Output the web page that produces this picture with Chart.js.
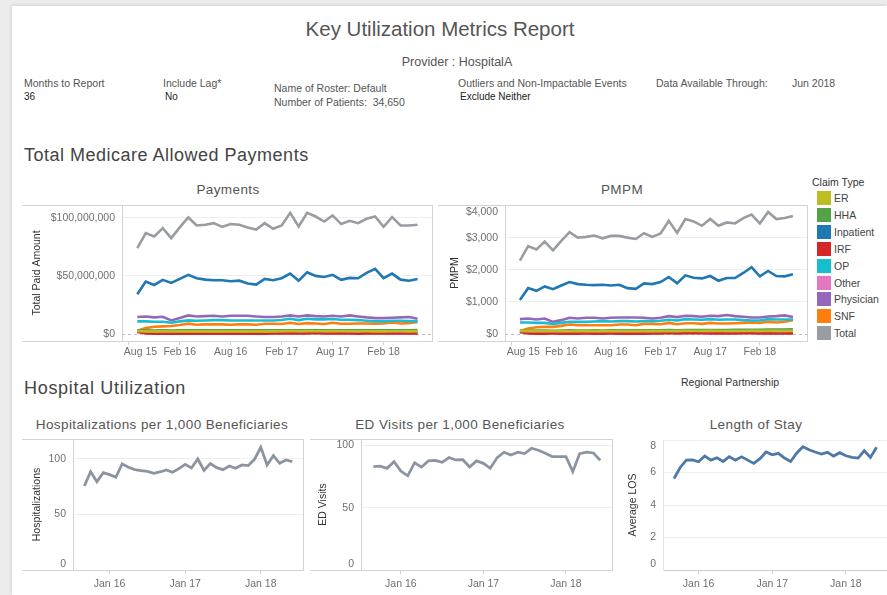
<!DOCTYPE html>
<html>
<head>
<meta charset="utf-8">
<script src="https://cdn.jsdelivr.net/npm/chart.js@4.4.1/dist/chart.umd.min.js"></script>
<style>
  body { margin: 0; width: 887px; height: 595px; background: #ececec; overflow: hidden; position: relative;
         font-family: "Liberation Sans", Arial, sans-serif; }
  #panel { position: absolute; left: 12px; top: 6px; right: 0; bottom: 0; background: #fff;
           box-shadow: -1px -1px 3px rgba(0,0,0,0.10); }
  .t { position: absolute; white-space: nowrap; color: #555; line-height: 1; }
  .lab { font-size: 10.5px; color: #555; }
  .val { font-size: 10px; color: #222; }
  .sec { font-size: 18px; color: #444; letter-spacing: 0.5px; }
  .ct { font-size: 13.5px; color: #555; text-align: center; letter-spacing: 0.4px; }
  canvas { position: absolute; }
  .sw { position: absolute; width: 14px; height: 14px; }
</style>
</head>
<body>
<div id="panel"></div>

<div class="t" style="left:0;width:880px;text-align:center;top:19px;font-size:20.5px;color:#555">Key Utilization Metrics Report</div>
<div class="t" style="left:0;width:914px;text-align:center;top:56px;font-size:12.5px;color:#555">Provider : HospitalA</div>

<div class="t lab" style="left:24px;top:78px">Months to Report</div>
<div class="t val" style="left:24px;top:92px">36</div>
<div class="t lab" style="left:163px;top:78px">Include Lag*</div>
<div class="t val" style="left:165px;top:92px">No</div>
<div class="t lab" style="left:274px;top:83px">Name of Roster: Default</div>
<div class="t lab" style="left:274px;top:97px">Number of Patients:&nbsp; 34,650</div>
<div class="t lab" style="left:458px;top:78px">Outliers and Non-Impactable Events</div>
<div class="t val" style="left:460px;top:92px">Exclude Neither</div>
<div class="t lab" style="left:656px;top:78px">Data Available Through:</div>
<div class="t lab" style="left:792px;top:78px">Jun 2018</div>

<div class="t sec" style="left:24px;top:146px">Total Medicare Allowed Payments</div>
<div class="t sec" style="left:24px;top:379px;letter-spacing:0.7px">Hospital Utilization</div>

<div class="t ct" style="left:128px;width:200px;top:183px">Payments</div>
<div class="t ct" style="left:522px;width:200px;top:183px">PMPM</div>
<div class="t ct" style="left:12px;width:300px;top:418px">Hospitalizations per 1,000 Beneficiaries</div>
<div class="t ct" style="left:310px;width:300px;top:418px">ED Visits per 1,000 Beneficiaries</div>
<div class="t ct" style="left:656px;width:200px;top:418px">Length of Stay</div>

<div class="t lab" style="left:681px;top:377px;color:#333">Regional Partnership</div>

<div id="legend"></div>

<canvas id="cPay" width="420" height="176" style="left:22px;top:191px"></canvas>
<canvas id="cPmpm" width="380" height="182" style="left:438px;top:185px"></canvas>
<canvas id="cHosp" width="290" height="170" style="left:22px;top:425px"></canvas>
<canvas id="cEd" width="310" height="170" style="left:310px;top:425px"></canvas>
<canvas id="cLos" width="269" height="175" style="left:618px;top:420px"></canvas>

<script>
// months Sep 2015 .. Jun 2018 (axis month 0 = Jul 2015)
const months = ['Sep 15','Oct 15','Nov 15','Dec 15','Jan 16','Feb 16','Mar 16','Apr 16','May 16','Jun 16','Jul 16','Aug 16',
  'Sep 16','Oct 16','Nov 16','Dec 16','Jan 17','Feb 17','Mar 17','Apr 17','May 17','Jun 17','Jul 17','Aug 17',
  'Sep 17','Oct 17','Nov 17','Dec 17','Jan 18','Feb 18','Mar 18','Apr 18','May 18','Jun 18'];
const firstMonth = 2;

const topTickPos = [1, 7, 13, 19, 25, 31];
const topTickLabels = ['Aug 15', 'Feb 16', 'Aug 16', 'Feb 17', 'Aug 17', 'Feb 18'];
const bottomTickPos = [6, 18, 30];
const bottomTickLabels = ['Jan 16', 'Jan 17', 'Jan 18'];

const claimTypes = ['ER', 'HHA', 'Inpatient', 'IRF', 'OP', 'Other', 'Physician', 'SNF', 'Total'];
const claimColors = ['#bcbd22', '#55a146', '#1f77b4', '#d62728', '#17becf', '#e377c2', '#9467bd', '#ff7f0e', '#999ca1'];

// Payments, in millions of dollars
const payER = [2.4,2.3,2.2,2.3,2.2,2.3,2.4,2.3,2.3,2.4,2.3,2.4,2.3,2.3,2.4,2.3,2.3,2.4,2.5,2.4,2.5,2.4,2.4,2.5,2.4,2.4,2.4,2.4,2.3,2.3,2.4,2.4,2.3,2.4];
const payHHA = [3.0,3.1,3.0,3.1,2.9,3.1,3.2,3.1,3.1,3.2,3.1,3.1,3.2,3.1,3.1,3.2,3.1,3.2,3.3,3.1,3.3,3.2,3.2,3.3,3.2,3.2,3.2,3.3,3.2,3.2,3.3,3.3,3.2,3.4];
const payInpatient = [34.2,45.1,42.2,46.6,44.0,47.4,50.9,48.0,46.8,46.3,46.3,45.4,45.9,43.4,42.5,47.4,46.3,48.0,52.0,45.9,53.2,50.0,49.1,50.9,46.6,48.3,48.0,52.6,56.0,48.0,52.0,46.8,45.9,47.4];
const payIRF = [2.2,0.4,0.3,0.3,0.4,0.3,0.4,0.3,0.4,0.3,0.3,0.4,0.3,0.3,0.4,0.3,0.4,0.4,0.8,0.5,0.6,0.9,0.5,0.4,0.6,0.4,0.3,0.6,0.5,0.4,0.5,0.4,0.4,0.4];
const payOP = [10.9,10.9,10.6,10.6,9.7,10.9,11.7,11.4,11.7,12.0,12.0,11.7,11.7,11.7,11.7,11.7,11.7,12.0,13.1,12.0,13.1,12.6,12.6,12.9,12.3,12.3,12.0,11.4,10.9,10.9,11.4,11.4,11.1,10.9];
const payOther = [1.3,0.9,0.8,0.8,0.8,0.9,0.9,0.8,0.8,0.9,0.8,0.8,0.9,0.8,0.8,0.9,0.8,0.8,0.9,0.8,0.9,0.9,0.8,0.9,0.8,0.8,0.9,0.8,0.8,0.8,0.9,0.8,0.8,0.8];
const payPhysician = [14.6,15.1,14.3,14.9,11.7,13.7,16.0,15.1,15.4,15.7,15.1,15.7,15.7,15.7,15.1,14.6,14.6,15.1,16.0,15.1,16.0,15.4,15.1,15.7,15.1,16.0,15.1,14.3,13.7,13.7,14.0,14.3,14.6,13.1];
const paySNF = [2.9,5.1,6.3,6.6,6.9,7.7,8.9,8.0,8.3,8.3,8.3,8.0,8.3,8.3,8.0,8.9,8.9,8.6,9.7,8.6,9.4,9.1,8.6,9.7,8.9,8.9,9.1,9.1,8.9,9.1,10.0,9.1,9.4,10.3];
const payTotal = [73.9,86.8,83.9,91.1,82.5,91.7,100.3,93.4,94.0,95.4,92.2,94.6,94.0,91.7,89.9,95.4,90.5,93.4,104.3,92.5,104.3,101.1,96.8,102.0,94.6,97.4,95.4,99.1,101.1,92.2,100.6,93.4,93.4,94.0];
const payTicks = [0, 50, 100];

// PMPM, dollars
const pmER = [95,88,85,87,84,88,90,88,88,90,88,89,88,88,90,89,88,90,94,90,95,92,91,95,92,92,93,94,95,92,96,95,94,97];
const pmHHA = [100,105,104,106,102,108,112,110,110,112,110,111,112,112,114,115,114,117,122,118,124,122,123,126,124,126,128,130,132,130,135,136,136,142];
const pmInpatient = [1063,1432,1348,1485,1400,1516,1622,1558,1537,1527,1537,1516,1537,1432,1411,1580,1558,1622,1780,1580,1832,1758,1737,1811,1664,1748,1748,1906,2085,1801,1969,1811,1801,1864];
const pmIRF = [80,15,12,12,14,12,15,12,14,12,12,14,12,12,15,12,15,15,30,18,22,35,20,16,24,16,14,24,20,16,22,16,16,18];
const pmOP = [358,358,347,347,316,347,379,379,379,390,400,390,400,400,390,400,400,411,442,421,463,453,442,463,442,453,453,432,421,421,463,453,453,453];
const pmOther = [40,30,28,28,28,30,30,28,28,30,28,28,30,28,28,30,28,28,31,28,31,31,28,31,29,29,31,29,29,29,31,29,29,29];
const pmPhysician = [463,484,453,484,379,432,505,484,505,505,484,505,516,516,516,505,484,505,558,527,569,558,537,569,558,590,558,537,516,516,548,558,579,527];
const pmSNF = [95,168,211,221,221,253,295,274,274,274,274,274,295,295,274,316,316,305,347,305,337,337,316,347,326,326,337,347,358,347,379,358,379,432];
const pmTotal = [2295,2748,2642,2885,2611,2906,3180,3011,3033,3075,2990,3064,3064,3011,2969,3148,3033,3138,3538,3159,3591,3517,3380,3591,3380,3485,3454,3622,3728,3454,3812,3591,3622,3686];
const pmTicks = [0, 1000, 2000, 3000, 4000];

// Hospital utilization
const hospPer1000 = [75.7,88.6,79.6,87.7,85.9,83.5,95.5,92.5,90.4,89.5,88.9,87.1,88.3,90.1,88.0,91.3,95.2,91.9,100,89.8,95.8,92.2,90.4,93.7,91.6,94.6,94.0,99.7,110.5,94.6,103,96.1,99.1,97.6];
const edPer1000 = [82.8,83.3,81.5,86.8,79.3,75.5,86.0,82.5,87.4,87.9,86.3,90.1,88.2,88.4,82.5,87.4,85.5,81.5,90.1,94.4,92.2,94.4,93.3,97.6,96.0,93.5,90.9,90.9,90.9,78.8,93.3,94.4,93.8,87.9];
const avgLos = [5.63,6.31,6.76,6.78,6.66,7.01,6.76,6.91,6.68,6.97,6.76,6.97,6.76,6.56,6.85,7.26,7.09,7.18,6.89,6.68,7.20,7.59,7.40,7.26,7.13,7.24,7.01,7.22,7.03,6.93,6.89,7.34,6.93,7.55];
const countTicks = [0, 50, 100];
const losTicks = [0, 2, 4, 6, 8];

const paySeries = [payER, payHHA, payInpatient, payIRF, payOP, payOther, payPhysician, paySNF, payTotal];
const pmSeries = [pmER, pmHHA, pmInpatient, pmIRF, pmOP, pmOther, pmPhysician, pmSNF, pmTotal];

const FONT = '"Liberation Sans", Arial, sans-serif';

function points(values) {
  return values.map((v, i) => ({ x: firstMonth + i, y: v }));
}

// legend
const legend = document.getElementById('legend');
legend.innerHTML = '<div class="t lab" style="left:812px;top:177px;color:#333">Claim Type</div>' +
  claimTypes.map((name, i) => {
    const y = 191 + i * 16.9;
    return `<div class="sw" style="left:817px;top:${y}px;background:${claimColors[i]}"></div>` +
      `<div class="t lab" style="left:834px;top:${y + 2}px;color:#444">${name}</div>`;
  }).join('');

// frame lines + dashed zero line
const framePlugin = {
  id: 'frame',
  beforeDatasetsDraw(chart, args, o) {
    const { ctx, chartArea: a } = chart;
    ctx.save();
    ctx.lineWidth = 1;
    if (o.box) {
      ctx.strokeStyle = '#d3d3d3';
      ctx.beginPath();
      ctx.moveTo(0, Math.round(a.top) + 0.5); ctx.lineTo(a.right + 1, Math.round(a.top) + 0.5);
      ctx.moveTo(0, Math.round(a.bottom) + 0.5); ctx.lineTo(a.right + 1, Math.round(a.bottom) + 0.5);
      ctx.moveTo(Math.round(a.right) + 0.5, a.top); ctx.lineTo(Math.round(a.right) + 0.5, a.bottom);
      ctx.stroke();
    }
    if (o.zero) {
      const y0 = Math.round(chart.scales.y.getPixelForValue(0)) + 0.5;
      ctx.strokeStyle = '#bdbdbd';
      ctx.setLineDash([3, 3]);
      ctx.beginPath();
      ctx.moveTo(a.left, y0); ctx.lineTo(a.right, y0);
      ctx.stroke();
    }
    ctx.restore();
  }
};

function makeChart(id, cfg) {
  const datasets = cfg.series.map((s, i) => ({
    label: cfg.names ? cfg.names[i] : 'v',
    data: points(s),
    borderColor: cfg.colors[i],
    borderWidth: cfg.lineWidth || 2.6,
    pointRadius: 0,
    tension: 0,
    fill: false
  }));
  return new Chart(document.getElementById(id), {
    type: 'line',
    data: { datasets: datasets },
    options: {
      responsive: false,
      animation: false,
      layout: { padding: { top: cfg.padTop, right: cfg.padRight, left: 0, bottom: 0 } },
      plugins: {
        legend: { display: false },
        tooltip: { enabled: false },
        frame: { box: cfg.box, zero: cfg.zero }
      },
      scales: {
        x: {
          type: 'linear',
          min: 0.2,
          max: 36.7,
          afterBuildTicks: (scale) => { scale.ticks = cfg.xPos.map(v => ({ value: v })); },
          afterFit: (scale) => { scale.height = cfg.xHeight; },
          ticks: {
            autoSkip: false,
            maxRotation: 0,
            padding: cfg.xPad,
            color: '#6f6f6f',
            font: { family: FONT, size: 10.5 },
            callback: (v) => {
              const i = cfg.xPos.indexOf(v);
              // first label sits against the left edge: pushed right inside the plot
              return (cfg.nudgeFirstX && i === 0) ? '        ' + cfg.xLabels[i] : cfg.xLabels[i];
            }
          },
          grid: { drawOnChartArea: false, drawTicks: true, tickLength: 4, tickColor: '#d0d0d0' },
          border: cfg.box ? { display: false } : { display: true, color: '#cfcfcf', dash: [2, 2] }
        },
        y: {
          min: cfg.yMin,
          max: cfg.yMax,
          afterBuildTicks: (scale) => { scale.ticks = cfg.yTicks.map(v => ({ value: v })); },
          afterFit: (scale) => { scale.width = cfg.yWidth; },
          ticks: {
            padding: 7,
            color: '#6f6f6f',
            font: { family: FONT, size: 10.5 },
            callback: (v) => {
              const txt = cfg.yFormat(v);
              // labels at the plot edges are nudged inside it
              if (cfg.nudgeBottom && v === cfg.yMin) return [txt, ''];
              if (cfg.nudgeTop && v === cfg.yTicks[cfg.yTicks.length - 1]) return ['', txt];
              return txt;
            }
          },
          grid: {
            drawTicks: false,
            color: (c) => (cfg.zero && c.tick && c.tick.value === 0) ? 'rgba(0,0,0,0)' : '#efefef'
          },
          border: { display: true, color: cfg.box ? '#d3d3d3' : '#e6e6e6' },
          title: {
            display: true,
            text: cfg.yTitle,
            color: '#333',
            font: { family: FONT, size: 10.5 },
            padding: { top: cfg.titlePad, bottom: 0 }
          }
        }
      }
    },
    plugins: [framePlugin]
  });
}

makeChart('cPay', {
  series: paySeries, names: claimTypes, colors: claimColors,
  padTop: 14, padRight: 10, yWidth: 100, xHeight: 26, xPad: 1, nudgeFirstX: true,
  yMin: -6, yMax: 111, yTicks: payTicks,
  yFormat: (v) => '$' + (v * 1000000).toLocaleString('en-US'),
  yTitle: 'Total Paid Amount', titlePad: 9,
  xPos: topTickPos, xLabels: topTickLabels, box: true, zero: true
});

makeChart('cPmpm', {
  series: pmSeries, names: claimTypes, colors: claimColors,
  padTop: 20, padRight: 11, yWidth: 67, xHeight: 26, xPad: 1, nudgeFirstX: true, nudgeTop: true,
  yMin: -220, yMax: 4030, yTicks: pmTicks,
  yFormat: (v) => '$' + v.toLocaleString('en-US'),
  yTitle: 'PMPM', titlePad: 11,
  xPos: topTickPos, xLabels: topTickLabels, box: true, zero: true
});

makeChart('cHosp', {
  series: [hospPer1000], colors: ['#8b95a2'], lineWidth: 2.8,
  padTop: 14, padRight: 9, yWidth: 51, xHeight: 25, xPad: 4, nudgeBottom: true,
  yMin: 0, yMax: 118, yTicks: countTicks,
  yFormat: (v) => String(v),
  yTitle: 'Hospitalizations', titlePad: 9,
  xPos: bottomTickPos, xLabels: bottomTickLabels, box: true, zero: false
});

makeChart('cEd', {
  series: [edPer1000], colors: ['#8b95a2'], lineWidth: 2.8,
  padTop: 14, padRight: 8, yWidth: 51, xHeight: 25, xPad: 4, nudgeBottom: true,
  yMin: 0, yMax: 105, yTicks: countTicks,
  yFormat: (v) => String(v),
  yTitle: 'ED Visits', titlePad: 7,
  xPos: bottomTickPos, xLabels: bottomTickLabels, box: true, zero: false
});

makeChart('cLos', {
  series: [avgLos], colors: ['#4e79a7'], lineWidth: 2.8,
  padTop: 20, padRight: 0, yWidth: 45, xHeight: 25, xPad: 4, nudgeBottom: true, nudgeTop: true,
  yMin: 0, yMax: 8, yTicks: losTicks,
  yFormat: (v) => String(v),
  yTitle: 'Average LOS', titlePad: 9,
  xPos: bottomTickPos, xLabels: bottomTickLabels, box: false, zero: false
});
</script>
</body>
</html>
